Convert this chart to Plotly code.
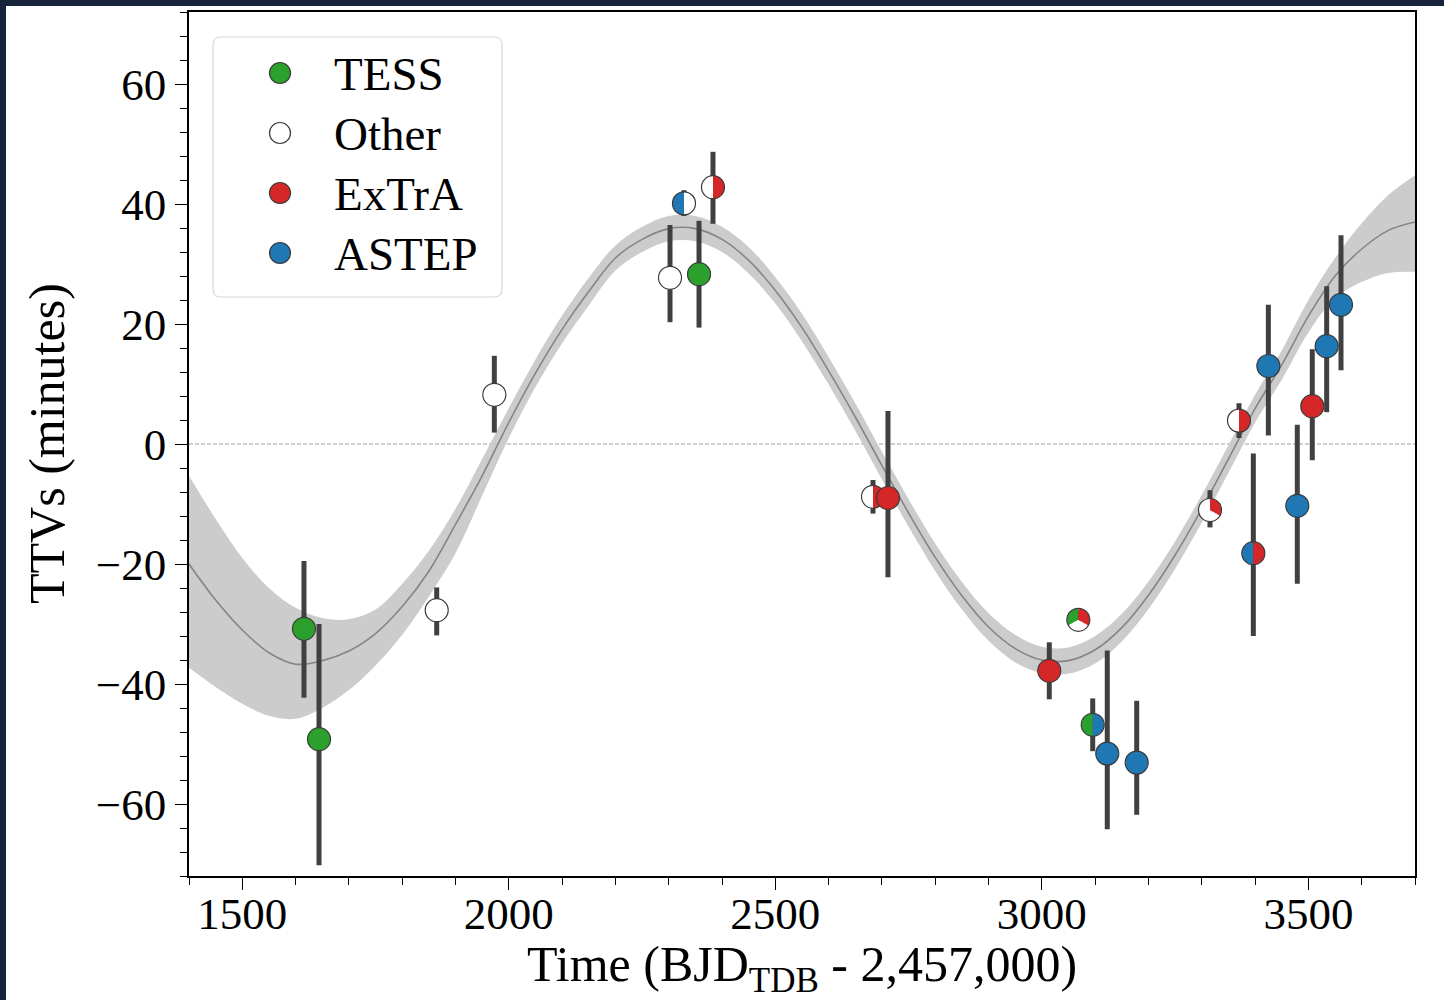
import numpy as np
import plotly.graph_objects as go

# ---------------- data ----------------
obs_time = [1615.7, 1643.9, 1864.7, 1972.8, 2302.4, 2328.6, 2356.8, 2383.0,
            2683.2, 2711.3, 3013.9, 3068.4, 3095.4, 3122.7, 3177.9, 3315.4,
            3369.8, 3396.7, 3424.9, 3479.2, 3507.3, 3534.3, 3561.2]
obs_ttv = [-30.8, -49.2, -27.7, 8.2, 27.7, 40.1, 28.3, 42.8,
           -8.8, -9.0, -37.8, -29.3, -46.8, -51.6, -53.1, -11.0,
           3.9, -18.2, 13.0, -10.3, 6.3, 16.3, 23.2]
obs_err_plus = [11.3, 19.2, 3.8, 6.5, 8.8, 2.2, 8.9, 5.9,
                2.8, 14.5, 4.75, 1.5, 4.4, 17.2, 10.3, 3.3,
                2.9, 16.6, 10.2, 13.5, 9.5, 10.0, 11.6]
obs_err_minus = [11.5, 21.0, 4.2, 6.3, 7.4, 2.1, 8.9, 6.1,
                 2.8, 13.2, 4.75, 1.5, 4.4, 12.6, 8.7, 2.9,
                 2.9, 13.8, 11.6, 13.0, 9.0, 11.0, 10.9]
# instruments contributing to each transit (equal pie slices, counter-clockwise from top)
obs_instruments = [["TESS"], ["TESS"], ["Other"], ["Other"], ["Other"],
                   ["ASTEP", "Other"], ["TESS"], ["Other", "ExTrA"],
                   ["Other", "ExTrA"], ["ExTrA"], ["ExTrA"],
                   ["TESS", "Other", "ExTrA"], ["TESS", "ASTEP"], ["ASTEP"],
                   ["ASTEP"], ["Other", "Other", "ExTrA"], ["Other", "ExTrA"],
                   ["ASTEP", "ExTrA"], ["ASTEP"], ["ASTEP"], ["ExTrA"],
                   ["ASTEP"], ["ASTEP"]]

legend_names = ["TESS", "Other", "ExTrA", "ASTEP"]
legend_colors = ["#2ca02c", "#ffffff", "#d62728", "#1f77b4"]

# model curve and its uncertainty band (read at 50-day steps)
model_time = [1400, 1450, 1500, 1550, 1600, 1650, 1700, 1750, 1800, 1850,
              1900, 1950, 2000, 2050, 2100, 2150, 2200, 2250, 2300, 2350,
              2400, 2450, 2500, 2550, 2600, 2650, 2700, 2750, 2800, 2850,
              2900, 2950, 3000, 3050, 3100, 3150, 3200, 3250, 3300, 3350,
              3400, 3450, 3500, 3550, 3600, 3650, 3700]
model_ttv = [-20.0, -26.0, -31.0, -34.8, -36.7, -36.1, -34.5, -31.6, -27.1, -21.2,
             -13.4, -5.3, 3.6, 11.8, 19.1, 25.4, 31.0, 34.1, 35.9, 35.9,
             34.1, 30.6, 25.6, 19.4, 12.2, 4.5, -3.6, -11.5, -18.9, -25.3,
             -30.5, -34.1, -36.0, -36.1, -34.3, -30.6, -25.2, -18.5, -10.8, -2.5,
             5.9, 13.2, 21.3, 28.0, 32.5, 35.6, 37.0]
band_high = [-5.3, -12.5, -19.0, -24.0, -27.3, -29.0, -29.2, -27.6, -23.3, -17.8,
             -10.8, -2.5, 6.0, 14.1, 21.4, 27.7, 33.1, 36.2, 38.0, 38.0,
             36.2, 32.8, 27.8, 21.7, 14.5, 6.8, -1.3, -9.2, -16.6, -23.0,
             -28.2, -31.8, -33.8, -33.9, -32.0, -28.3, -22.9, -16.2, -8.5, -0.2,
             8.2, 15.6, 24.0, 31.0, 36.8, 41.5, 44.8]
band_low = [-37.3, -40.5, -43.3, -45.3, -45.8, -44.0, -41.0, -36.9, -31.8, -25.4,
            -18.2, -8.6, 1.0, 9.5, 16.8, 23.1, 28.9, 32.0, 33.8, 33.8,
            32.0, 28.4, 23.4, 17.1, 9.9, 2.2, -5.9, -13.8, -21.2, -27.6,
            -32.8, -36.4, -38.2, -38.3, -36.6, -32.9, -27.5, -20.8, -13.1, -4.8,
            3.6, 10.7, 18.6, 24.3, 27.0, 28.5, 28.7]

# ---------------- geometry ----------------
W, H = 1444, 1000
ML, MR, MT, MB = 189, 29, 12, 124
X_RANGE = [1400, 3700]
Y_RANGE = [-72, 72]
PLOT_W = W - ML - MR
PLOT_H = H - MT - MB
PX_X = PLOT_W / (X_RANGE[1] - X_RANGE[0])   # pixels per day
PX_Y = PLOT_H / (Y_RANGE[1] - Y_RANGE[0])   # pixels per minute
MARKER_D = 23
EDGE = "#3a3a3a"
FONT = "Liberation Serif"

color_of = dict(zip(legend_names, legend_colors))


def px2paper_x(px):
    return (px - ML) / PLOT_W


def px2paper_y(py):
    return (H - MB - py) / PLOT_H


fig = go.Figure()

# model band
fig.add_trace(go.Scatter(x=model_time, y=band_low, mode="lines",
                         line=dict(width=0, shape="spline", color="rgba(0,0,0,0)"),
                         showlegend=False, hoverinfo="skip"))
fig.add_trace(go.Scatter(x=model_time, y=band_high, mode="lines", fill="tonexty",
                         fillcolor="#cccccc",
                         line=dict(width=0, shape="spline", color="rgba(0,0,0,0)"),
                         showlegend=False, hoverinfo="skip"))
# model curve
fig.add_trace(go.Scatter(x=model_time, y=model_ttv, mode="lines",
                         line=dict(color="#858585", width=1.6, shape="spline"),
                         showlegend=False, hoverinfo="skip"))


def wedge(cx, cy, a0, a1, r_px, n=40):
    th = np.linspace(a0, a1, n)
    xs = [cx] + list(cx + r_px * np.cos(th) / PX_X) + [cx]
    ys = [cy] + list(cy + r_px * np.sin(th) / PX_Y) + [cy]
    return xs, ys


for t, v, ep, em, inst in zip(obs_time, obs_ttv, obs_err_plus, obs_err_minus, obs_instruments):
    err = dict(type="data", symmetric=False, array=[ep], arrayminus=[em],
               visible=True, thickness=5, width=0, color="#404040")
    if len(set(inst)) == 1:
        fig.add_trace(go.Scatter(
            x=[t], y=[v], mode="markers", error_y=err,
            marker=dict(size=MARKER_D, color=color_of[inst[0]],
                        line=dict(color=EDGE, width=1.2)),
            showlegend=False, hoverinfo="skip"))
        continue
    # error bar underneath
    fig.add_trace(go.Scatter(x=[t], y=[v], mode="markers", error_y=err,
                             marker=dict(size=1, color="rgba(0,0,0,0)"),
                             showlegend=False, hoverinfo="skip"))
    n = len(inst)
    step = 2 * np.pi / n
    # merge consecutive equal slices
    groups = []
    for k, name in enumerate(inst):
        if groups and groups[-1][0] == name:
            groups[-1][2] = k + 1
        else:
            groups.append([name, k, k + 1])
    r = MARKER_D / 2
    for name, k0, k1 in groups:
        xs, ys = wedge(t, v, np.pi / 2 + k0 * step, np.pi / 2 + k1 * step, r)
        fig.add_trace(go.Scatter(x=xs, y=ys, mode="lines", fill="toself",
                                 fillcolor=color_of[name],
                                 line=dict(width=0, color="rgba(0,0,0,0)"),
                                 showlegend=False, hoverinfo="skip"))
    fig.add_trace(go.Scatter(x=[t], y=[v], mode="markers",
                             marker=dict(size=MARKER_D, color="rgba(0,0,0,0)",
                                         line=dict(color=EDGE, width=1.2)),
                             showlegend=False, hoverinfo="skip"))

shapes = []
# zero line
shapes.append(dict(type="line", xref="paper", yref="y", x0=0, x1=1, y0=0, y1=0,
                   line=dict(color="#a0a0a0", width=1, dash="4px,2px"), layer="below"))

# dark strips of the screenshot background
shapes.append(dict(type="rect", xref="paper", yref="paper",
                   x0=px2paper_x(0), x1=px2paper_x(W), y0=px2paper_y(6), y1=px2paper_y(0),
                   fillcolor="#17233a", line=dict(width=0), layer="above"))
shapes.append(dict(type="rect", xref="paper", yref="paper",
                   x0=px2paper_x(0), x1=px2paper_x(6), y0=px2paper_y(H), y1=px2paper_y(0),
                   fillcolor="#17233a", line=dict(width=0), layer="above"))

# legend box (rounded)
lx0, lx1, ly0, ly1, rad = 213, 502, 37, 297, 8
def P(px, py):
    return f"{px2paper_x(px):.5f},{px2paper_y(py):.5f}"
path = (f"M {P(lx0 + rad, ly0)} L {P(lx1 - rad, ly0)} Q {P(lx1, ly0)} {P(lx1, ly0 + rad)} "
        f"L {P(lx1, ly1 - rad)} Q {P(lx1, ly1)} {P(lx1 - rad, ly1)} "
        f"L {P(lx0 + rad, ly1)} Q {P(lx0, ly1)} {P(lx0, ly1 - rad)} "
        f"L {P(lx0, ly0 + rad)} Q {P(lx0, ly0)} {P(lx0 + rad, ly0)} Z")
shapes.append(dict(type="path", xref="paper", yref="paper", path=path,
                   fillcolor="rgba(255,255,255,0.85)", line=dict(color="#d8d8d8", width=1.2),
                   layer="above"))

annotations = []
for i, (name, col) in enumerate(zip(legend_names, legend_colors)):
    cy = 73 + 60 * i
    shapes.append(dict(type="circle", xref="paper", yref="paper",
                       xsizemode="pixel", ysizemode="pixel",
                       xanchor=px2paper_x(280), yanchor=px2paper_y(cy),
                       x0=-10.5, x1=10.5, y0=-10.5, y1=10.5,
                       fillcolor=col, line=dict(color=EDGE, width=1.2), layer="above"))
    annotations.append(dict(x=px2paper_x(332), y=px2paper_y(cy + 1), xref="paper", yref="paper",
                            text=name, showarrow=False, xanchor="left", yanchor="middle",
                            font=dict(family=FONT, size=47, color="black")))

annotations.append(dict(x=0.5, y=px2paper_y(968), xref="paper", yref="paper",
                        text="Time (BJD<sub>TDB</sub> - 2,457,000)", showarrow=False,
                        xanchor="center", yanchor="middle",
                        font=dict(family=FONT, size=50, color="black")))
annotations.append(dict(x=px2paper_x(47), y=0.5, xref="paper", yref="paper",
                        text="TTVs (minutes)", showarrow=False, textangle=-90,
                        xanchor="center", yanchor="middle",
                        font=dict(family=FONT, size=50, color="black")))

axis_common = dict(showgrid=False, zeroline=False, showline=True, linecolor="black",
                   linewidth=1.5, mirror=True, ticks="outside", ticklen=12,
                   tickwidth=1.3, tickcolor="black",
                   tickfont=dict(family=FONT, size=45, color="black"))

fig.update_layout(
    width=W, height=H,
    margin=dict(l=ML, r=MR, t=MT, b=MB, autoexpand=False),
    paper_bgcolor="white", plot_bgcolor="white",
    showlegend=False,
    xaxis=dict(range=X_RANGE, tick0=1500, dtick=500, ticklabelstandoff=-15,
               minor=dict(tick0=1400, dtick=100, ticks="outside", ticklen=7,
                          tickwidth=1.2, tickcolor="black", showgrid=False),
               **axis_common),
    yaxis=dict(range=Y_RANGE, tick0=0, dtick=20,
               minor=dict(tick0=0, dtick=4, ticks="outside", ticklen=7,
                          tickwidth=1.2, tickcolor="black", showgrid=False),
               **axis_common),
    shapes=shapes,
    annotations=annotations,
)

fig.write_html("out.html")
